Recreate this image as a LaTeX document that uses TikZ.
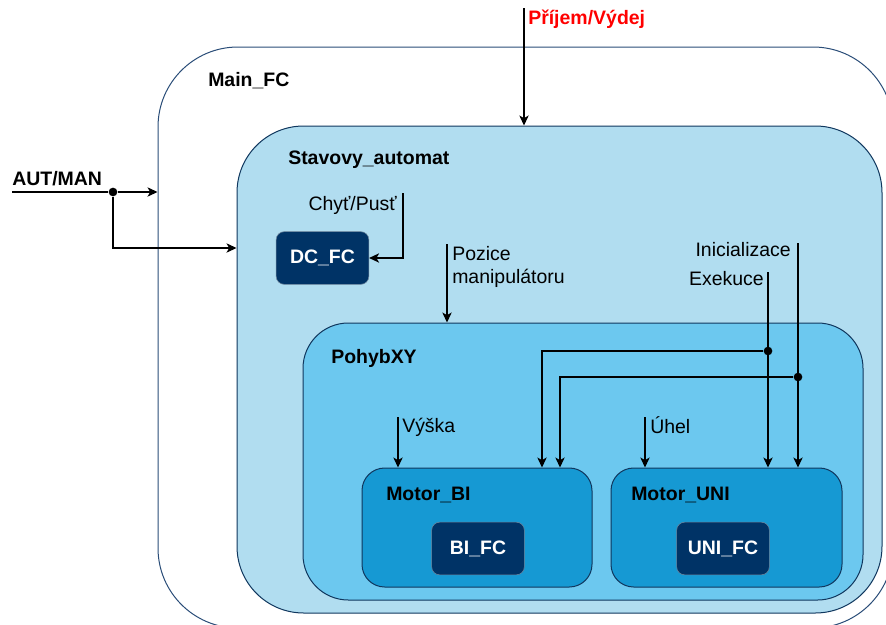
\documentclass[tikz,border=0pt]{standalone}
\usepackage{fontspec}
\setmainfont{Liberation Sans}
\usepackage{xcolor}
\usetikzlibrary{arrows.meta,fit}
\definecolor{navy}{HTML}{003366}
\definecolor{edge}{HTML}{10375E}
\definecolor{mainedge}{HTML}{2A4D78}
\definecolor{lightblue}{HTML}{B1DDF0}
\definecolor{midblue}{HTML}{6CC8EF}
\definecolor{deepblue}{HTML}{1699D3}
\definecolor{redtext}{HTML}{FF0000}
\newcommand{\diagfont}{\fontsize{14.6}{17.3}\selectfont}
\tikzset{
    >={Stealth[length=7.5pt,width=7pt,inset=2pt]} % Default arrow tip
}
\tikzstyle{container}=[
    draw = edge,
    line width = 0.75pt,
    rectangle,
    inner sep = 0pt
]
\tikzstyle{fcbox}=[
    draw = edge!60,
    fill = navy,
    rounded corners = 6pt,
    inner sep = 0pt,
    minimum width = 69.5pt,
    minimum height = 39.5pt,
    text = white,
    font = \diagfont\bfseries
]
\tikzstyle{boxtitle}=[inner sep = 0pt, font = \diagfont\bfseries]
\tikzstyle{sigtext}=[inner sep = 0pt, font = \diagfont]
\tikzstyle{junction}=[
    circle,
    fill = black,
    inner sep = 0pt,
    minimum width = 6.5pt
]
\tikzstyle{wire}=[line width = 0.9pt]

\begin{document}
\begin{tikzpicture}[x=0.75pt, y=-0.75pt]
    \clip (0,0) rectangle (886,625);

    \node [container, fill=white, draw=mainedge, rounded corners=60pt, fit={(158,47) (893,628)}] (main) {};
    \node [container, fill=lightblue, rounded corners=50pt, fit={(237,126) (882,613)}] (stav) {};
    \node [container, fill=midblue, rounded corners=34pt, fit={(303,323) (863,600)}] (pohyb) {};
    \node [container, fill=deepblue, rounded corners=17pt, fit={(362,468) (592,587)}] (bi) {};
    \node [container, fill=deepblue, rounded corners=17pt, fit={(611,468) (842,587)}] (uni) {};

    \node [fcbox] (dc) at (322.5,258) {DC\_FC};
    \node [fcbox] (bifc) at (478,548.5) {BI\_FC};
    \node [fcbox] (unifc) at (723,548.5) {UNI\_FC};

    \node [boxtitle, anchor=base west] (tmain) at (208,86) {Main\_FC};
    \node [boxtitle, anchor=base west] (tstav) at (288,164) {Stavovy\_automat};
    \node [boxtitle, anchor=base west] (tpohyb) at (331,363) {PohybXY};
    \node [boxtitle, anchor=base west] (tbi) at (386,500) {Motor\_BI};
    \node [boxtitle, anchor=base west] (tuni) at (631,500) {Motor\_UNI};

    \node [boxtitle, anchor=base west] (taut) at (12,185) {AUT/MAN};
    \node [boxtitle, anchor=base west, text=redtext] (tprijem) at (528,24) {Příjem/Výdej};
    \node [sigtext, anchor=base east] (tchyt) at (397,210) {Chyť/Pusť};
    \node [sigtext, anchor=north west, align=left] (tpozice) at (452,246) {Pozice\\manipulátoru};
    \node [sigtext, anchor=base east] (tinic) at (791,256) {Inicializace};
    \node [sigtext, anchor=base east] (texek) at (764,285) {Exekuce};
    \node [sigtext, anchor=base west] (tvyska) at (402,432) {Výška};
    \node [sigtext, anchor=base west] (tuhel) at (650,433) {Úhel};

    \coordinate (autin) at (12,192);
    \coordinate (autbend) at (113,248);
    \node [junction] (autdot) at (113,192) {};
    \draw [wire] (autin) -- (autdot);
    \draw [wire, ->] (autdot) -- (autdot -| main.west);
    \draw [wire, ->] (autdot) -- (autbend) -- (autbend -| stav.west);

    \coordinate (prijem) at (524,8);
    \draw [wire, ->] (prijem) -- (prijem |- stav.north);

    \coordinate (chyt) at (403,193);
    \draw [wire, ->] (chyt) |- (dc.east);

    \coordinate (pozice) at (447,244);
    \draw [wire, ->] (pozice) -- (pozice |- pohyb.north);

    \coordinate (inic) at (798,243);
    \coordinate (inbend) at (560,377);
    \node [junction] (indot) at (798,377) {};
    \draw [wire, ->] (inic) -- (inic |- uni.north);
    \draw [wire, ->] (indot) -- (inbend) -- (inbend |- bi.north);

    \coordinate (exek) at (768,272);
    \coordinate (exbend) at (542,351);
    \node [junction] (exdot) at (768,351) {};
    \draw [wire, ->] (exek) -- (exek |- uni.north);
    \draw [wire, ->] (exdot) -- (exbend) -- (exbend |- bi.north);

    \coordinate (vyska) at (398,417);
    \draw [wire, ->] (vyska) -- (vyska |- bi.north);
    \coordinate (uhel) at (645,417);
    \draw [wire, ->] (uhel) -- (uhel |- uni.north);
\end{tikzpicture}
\end{document}
